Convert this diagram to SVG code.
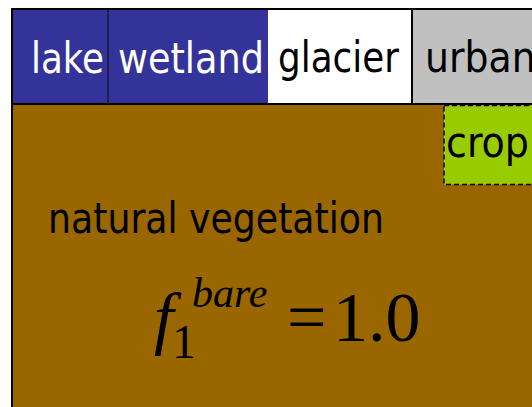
<svg xmlns="http://www.w3.org/2000/svg" width="532" height="407" viewBox="0 0 532 407">
<style>
.lbl{font-family:"DejaVu Sans Condensed","DejaVu Sans",sans-serif;font-stretch:condensed;font-size:42px;fill:#000}
.w{fill:#fff}
.math{font-family:"Liberation Serif","Times New Roman",serif;fill:#000}
.it{font-style:italic}
</style>
<rect x="0" y="0" width="532" height="407" fill="#fff"/>
<g id="natural-vegetation">
<rect x="12" y="104" width="530" height="320" fill="#996600" stroke="#000" stroke-width="2"/>
<text class="lbl" x="48" y="233" textLength="336" lengthAdjust="spacingAndGlyphs">natural vegetation</text>
<g class="math">
<text class="it" x="154" y="341" font-size="70">f</text>
<text x="172" y="358" font-size="48">1</text>
<text class="it" x="192" y="307" font-size="42">bare</text>
<text x="287" y="341" font-size="70">=</text>
<text x="333" y="341" font-size="70">1.0</text>
</g>
</g>
<g id="lake">
<rect x="12" y="9" width="96" height="95" fill="#333399"/>
<text class="lbl w" x="31" y="73" textLength="73" lengthAdjust="spacingAndGlyphs">lake</text>
</g>
<g id="wetland">
<rect x="108" y="9" width="160" height="95" fill="#333399"/>
<text class="lbl w" x="118" y="73" textLength="146" lengthAdjust="spacingAndGlyphs">wetland</text>
</g>
<g id="glacier">
<rect x="268" y="9" width="144" height="95" fill="#fff"/>
<text class="lbl" x="278" y="71.5" textLength="121" lengthAdjust="spacingAndGlyphs">glacier</text>
</g>
<g id="urban">
<rect x="412" y="9" width="130" height="95" fill="#c0c0c0"/>
<text class="lbl" x="425" y="71.5">urban</text>
</g>
<g id="crop">
<rect x="444" y="105.5" width="100" height="79" fill="#99cc00" stroke="#000" stroke-width="1.5" stroke-dasharray="5,3"/>
<text class="lbl" x="446" y="157" textLength="83" lengthAdjust="spacingAndGlyphs">crop</text>
</g>
<g id="connectors" stroke="#000" fill="none">
<rect x="12" y="9" width="540" height="95" stroke-width="2"/>
<line x1="108" y1="9" x2="108" y2="104" stroke="#1a1a40" stroke-width="1.5"/>
<line x1="412" y1="9" x2="412" y2="104" stroke-width="2"/>
</g>
</svg>
